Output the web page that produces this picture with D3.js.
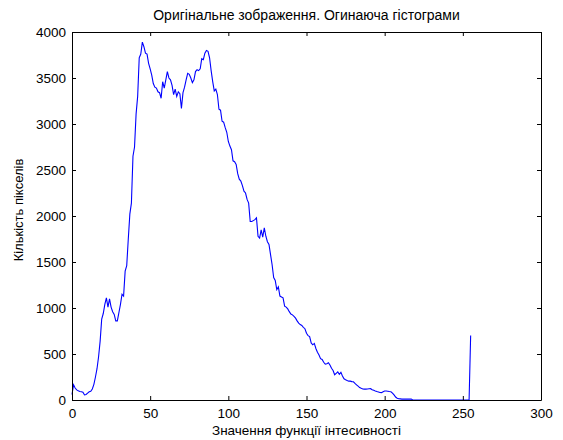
<!DOCTYPE html>
<html>
<head>
<meta charset="utf-8">
<script src="https://cdn.jsdelivr.net/npm/d3@7"></script>
<style>
  html, body { margin: 0; padding: 0; background: #fff; }
  svg { display: block; font-family: "Liberation Sans", Arial, sans-serif; }
</style>
</head>
<body>
<svg id="chart" width="563" height="440"></svg>
<script>
// Histogram envelope: pixel count for each intensity level 0..255
const counts = [
  60, 165, 130, 110, 100, 92, 90, 85, 55, 60,
  75, 90, 95, 120, 170, 250, 340, 470, 640, 880,
  940, 1040, 1110, 1010, 1100, 1010, 960, 930, 860, 860,
  950, 1040, 1150, 1130, 1400, 1460, 1750, 2020, 2140, 2650,
  2750, 3110, 3300, 3720, 3760, 3890, 3840, 3770, 3760, 3660,
  3600, 3530, 3440, 3400, 3390, 3350, 3340, 3280, 3460, 3390,
  3480, 3570, 3500, 3480, 3420, 3320, 3380, 3300, 3350, 3330,
  3170, 3340, 3400, 3480, 3550, 3540, 3500, 3450, 3480, 3570,
  3590, 3580, 3600, 3710, 3700, 3770, 3800, 3790, 3720, 3580,
  3460, 3360, 3380, 3320, 3160, 3150, 3030, 3020, 2960, 2910,
  2810, 2760, 2720, 2600, 2590, 2560, 2460, 2400, 2380, 2330,
  2270, 2250, 2180, 2140, 1940, 1940, 1950, 1960, 1980, 1780,
  1760, 1850, 1770, 1870, 1780, 1720, 1690, 1580, 1470, 1330,
  1300, 1200, 1230, 1130, 1120, 1110, 1020, 1010, 990, 960,
  935, 925, 910, 890, 860, 835, 820, 810, 790, 775,
  725, 700, 690, 620, 600, 615, 560, 520, 490, 450,
  440, 410, 390, 395, 405, 380, 345, 320, 275, 290,
  305, 280, 300, 260, 230, 220, 212, 205, 205, 200,
  198, 180, 165, 150, 135, 127, 120, 118, 118, 120,
  122, 123, 112, 105, 98, 92, 88, 82, 80, 90,
  98, 98, 95, 92, 90, 75, 55, 32, 20, 14,
  12, 10, 10, 10, 10, 10, 10, 10, 0, 0,
  0, 0, 0, 0, 0, 0, 0, 0, 0, 0,
  0, 0, 0, 0, 0, 0, 0, 0, 0, 0,
  0, 0, 0, 0, 0, 0, 0, 0, 0, 0,
  0, 0, 0, 0, 0, 700
];
const levels = counts.map((_, i) => i);

const xTicks = [0, 50, 100, 150, 200, 250, 300];
const yTicks = [0, 500, 1000, 1500, 2000, 2500, 3000, 3500, 4000];

const titleText = "Оригінальне зображення. Огинаюча гістограми";
const xLabelText = "Значення функції інтесивності";
const yLabelText = "Кількість пікселів";

const margin = { left: 72, right: 22, top: 32, bottom: 40 };
const W = 563, H = 440;
const svg = d3.select("#chart");

const x = d3.scaleLinear().domain([0, 300]).range([margin.left, W - margin.right]);
const y = d3.scaleLinear().domain([0, 4000]).range([H - margin.bottom, margin.top]);

const tickLen = 4;
const fontSize = 13.5;

// Data line
const line = d3.line().x((d, i) => x(levels[i])).y(d => y(d));
svg.append("path")
  .datum(counts)
  .attr("fill", "none")
  .attr("stroke", "#0000ff")
  .attr("stroke-width", 1.1)
  .attr("d", line);

// Axes with inward ticks on all four sides (boxed axes)
const axisBottomG = svg.append("g")
  .attr("transform", `translate(0,${y(0)})`)
  .call(d3.axisBottom(x).tickValues(xTicks).tickFormat(d3.format("d"))
    .tickSizeInner(-tickLen).tickSizeOuter(0).tickPadding(8));
const axisTopG = svg.append("g")
  .attr("transform", `translate(0,${y(4000)})`)
  .call(d3.axisTop(x).tickValues(xTicks).tickSizeInner(-tickLen).tickSizeOuter(0).tickFormat(""));
const axisLeftG = svg.append("g")
  .attr("transform", `translate(${x(0)},0)`)
  .call(d3.axisLeft(y).tickValues(yTicks).tickFormat(d3.format("d"))
    .tickSizeInner(-tickLen).tickSizeOuter(0).tickPadding(6));
const axisRightG = svg.append("g")
  .attr("transform", `translate(${x(300)},0)`)
  .call(d3.axisRight(y).tickValues(yTicks).tickSizeInner(-tickLen).tickSizeOuter(0).tickFormat(""));

[axisBottomG, axisTopG, axisLeftG, axisRightG].forEach(g => {
  g.select(".domain").attr("stroke", "#000").attr("stroke-width", 1);
  g.selectAll(".tick line").attr("stroke", "#000");
  g.selectAll(".tick text")
    .attr("fill", "#000")
    .style("font-size", fontSize + "px")
    .style("font-family", '"Liberation Sans", Arial, sans-serif');
});
axisBottomG.selectAll(".tick text").attr("dy", "0.71em");

// Title and axis labels
svg.append("text")
  .attr("x", (x(0) + x(300)) / 2).attr("y", 20)
  .attr("text-anchor", "middle")
  .style("font-size", "14px")
  .text(titleText);

svg.append("text")
  .attr("x", (x(0) + x(300)) / 2).attr("y", 435)
  .attr("text-anchor", "middle")
  .style("font-size", fontSize + "px")
  .text(xLabelText);

svg.append("text")
  .attr("transform", `translate(23,${(y(0) + y(4000)) / 2 - 6}) rotate(-90)`)
  .attr("text-anchor", "middle")
  .style("font-size", "13px")
  .text(yLabelText);
</script>
</body>
</html>
